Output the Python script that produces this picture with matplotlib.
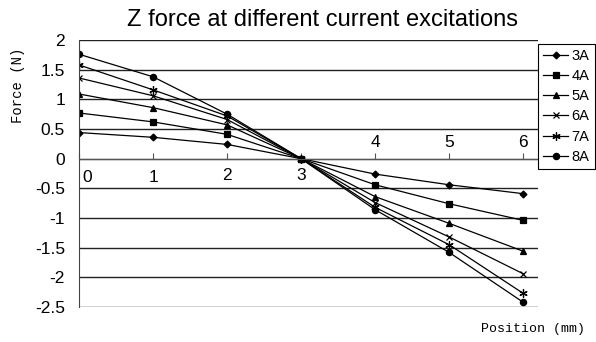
import matplotlib
matplotlib.use("Agg")
import matplotlib.pyplot as plt

positions = [0, 1, 2, 3, 4, 5, 6]
series_labels = ["3A", "4A", "5A", "6A", "7A", "8A"]
f_3A = [0.44, 0.36, 0.24, 0.0, -0.26, -0.44, -0.59]
f_4A = [0.77, 0.62, 0.41, 0.0, -0.44, -0.76, -1.04]
f_5A = [1.09, 0.86, 0.57, 0.0, -0.64, -1.09, -1.56]
f_6A = [1.36, 1.06, 0.66, 0.0, -0.74, -1.32, -1.94]
f_7A = [1.58, 1.16, 0.72, 0.0, -0.82, -1.45, -2.27]
f_8A = [1.76, 1.38, 0.75, 0.0, -0.86, -1.58, -2.42]
y_ticks = [2, 1.5, 1, 0.5, 0, -0.5, -1, -1.5, -2, -2.5]
y_tick_labels = ["2", "1.5", "1", "0.5", "0", "-0.5", "-1", "-1.5", "-2", "-2.5"]
x_tick_labels = ["0", "1", "2", "3", "4", "5", "6"]

fig = plt.figure(figsize=(5.96, 3.42), dpi=100)
ax = fig.add_axes([79/596, 1-307/342, (538-79)/596, (307-40)/342])

markers = ["D", "s", "^", "x", (6, 2, 0), "o"]
msizes = [3.5, 4.5, 5, 5, 6, 4.5]
data = [f_3A, f_4A, f_5A, f_6A, f_7A, f_8A]
for vals, lab, m, ms in zip(data, series_labels, markers, msizes):
    ax.plot(positions, vals, color="black", lw=0.9, marker=m, ms=ms,
            mew=0.9, label=lab)

ax.set_xlim(0, 6.2)
ax.set_ylim(-2.5, 2)
ax.set_yticks(y_ticks)
ax.set_yticklabels(y_tick_labels, fontsize=12.5, family="Liberation Sans")
ax.tick_params(axis="y", length=0, pad=10)
for y in y_ticks:
    ax.axhline(y, color="#222222", lw=1.0, zorder=0)

ax.set_xticks(positions)
ax.set_xticklabels([])
ax.spines["bottom"].set_position(("data", 0))
ax.spines["bottom"].set_color("#555555")
ax.tick_params(axis="x", direction="in", length=4, color="#555555")
ax.spines["top"].set_visible(False)
ax.spines["right"].set_visible(False)
ax.spines["left"].set_color("#444444")

for xv, lab in zip(positions, x_tick_labels):
    if xv <= 3:
        ypos = -0.28 if xv >= 2 else -0.32
        xpos = xv + 0.11 if xv == 0 else xv
        ax.text(xpos, ypos, lab, ha="center", va="center", fontsize=12.5,
                family="Liberation Sans")
    else:
        ax.text(xv, 0.28, lab, ha="center", va="center", fontsize=12.5,
                family="Liberation Sans")

fig.text(322/596, 1-20/342, "Z force at different current excitations",
         ha="center", va="center", fontsize=17, family="Liberation Sans")
fig.text(18/596, 1-85/342, "Force (N)", rotation=90, ha="center",
         va="center", fontsize=10, family="Liberation Mono")
fig.text(585/596, 1-329/342, "Position (mm)", ha="right", va="center",
         fontsize=9.5, family="Liberation Mono")

leg = fig.legend(loc="upper left", bbox_to_anchor=(538/596, 1-44/342),
                 frameon=True, fancybox=False, framealpha=1,
                 edgecolor="black", handlelength=1.7, handletextpad=0.25,
                 borderpad=0.35, labelspacing=0.42, borderaxespad=0,
                 prop={"family": "Liberation Sans", "size": 10.5})
leg.get_frame().set_linewidth(0.8)

fig.savefig("out.png", dpi=100)
